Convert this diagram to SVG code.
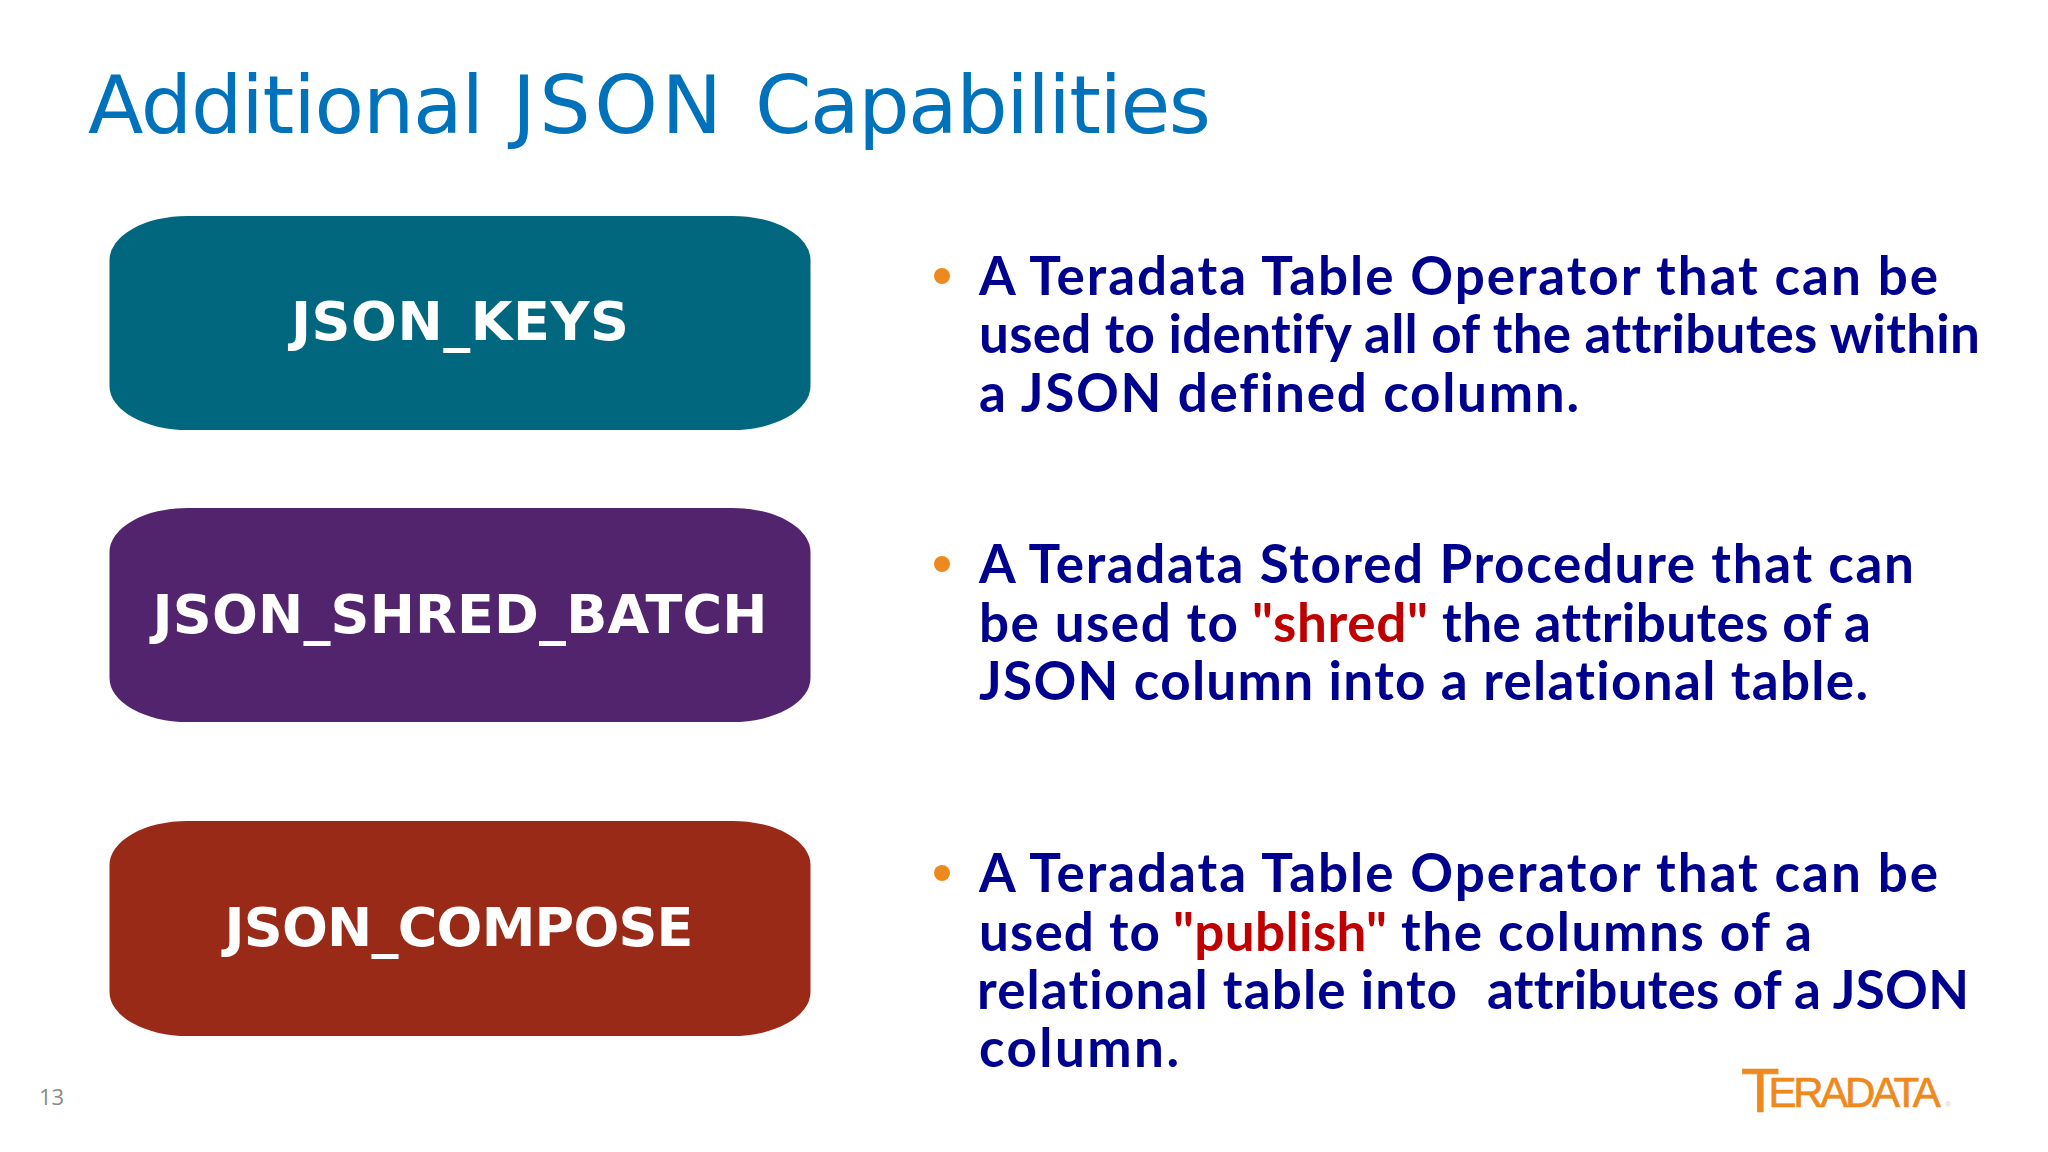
<svg xmlns="http://www.w3.org/2000/svg" width="2048" height="1152" viewBox="0 0 2048 1152">
<style>
.node{font-family:"DejaVu Sans",sans-serif;font-weight:700;font-size:54px;fill:#fff;text-anchor:middle}
.b{font-family:"Lato","Liberation Sans",sans-serif;font-weight:700;font-size:53px;fill:#00008f;font-variant-ligatures:none}
.r{fill:#c00000}
.dot{fill:#ee8a1d}
.t{font-family:"DejaVu Sans",sans-serif;font-size:81px;fill:#0072bc}
.l{font-family:"Liberation Sans",sans-serif;fill:#ee8a1d;stroke:#ee8a1d;stroke-width:.7}
</style>
<rect width="2048" height="1152" fill="#fff"/>
<text class="t" x="88" y="133" textLength="396">Additional</text>
<text class="t" x="512" y="133" textLength="210">JSON</text>
<text class="t" x="755" y="133" textLength="456">Capabilities</text>
<g id="json-keys"><rect x="109.500" y="216" width="701" height="214" rx="78" ry="44" fill="#00677f"/><text class="node" x="460" y="340" textLength="338">JSON_KEYS</text></g>
<g id="json-shred-batch"><rect x="109.500" y="508" width="701" height="214" rx="78" ry="44" fill="#52246d"/><text class="node" x="460" y="633" textLength="615">JSON_SHRED_BATCH</text></g>
<g id="json-compose"><rect x="109.500" y="821" width="701" height="215" rx="78" ry="44" fill="#9a2a18"/><text class="node" x="459" y="946" textLength="469">JSON_COMPOSE</text></g>
<g id="bullets">
<circle class="dot" cx="942" cy="276" r="8"/><circle class="dot" cx="942" cy="564" r="8"/><circle class="dot" cx="942" cy="873" r="8"/>
<text class="b" x="979" y="295" textLength="959">A Teradata Table Operator that can be</text>
<text class="b" x="979" y="353" textLength="1001">used to identify all of the attributes within</text>
<text class="b" x="979" y="412" textLength="600">a JSON defined column.</text>
<text class="b" x="979" y="583" textLength="935">A Teradata Stored Procedure that can</text>
<text class="b" x="979" y="642" textLength="259">be used to</text>
<text class="b r" x="1252" y="642" textLength="176">"shred"</text>
<text class="b" x="1442" y="642" textLength="429">the attributes of a</text>
<text class="b" x="979" y="700" textLength="889">JSON column into a relational table.</text>
<text class="b" x="979" y="892" textLength="959">A Teradata Table Operator that can be</text>
<text class="b" x="979" y="951" textLength="181">used to</text>
<text class="b r" x="1173" y="951" textLength="214">"publish"</text>
<text class="b" x="1401" y="951" textLength="411">the columns of a</text>
<text class="b" x="977" y="1009" textLength="480">relational table into</text>
<text class="b" x="1487" y="1009" textLength="482">attributes of a JSON</text>
<text class="b" x="979" y="1067" textLength="200">column.</text>
</g>
<text x="39" y="1105" font-family="Open Sans, sans-serif" font-size="22" fill="#8a8a8a" textLength="25">13</text>
<g id="logo"><text class="l" x="1741" y="1112" font-size="63">T<tspan font-size="42" dx="-11" dy="-5" letter-spacing="-3.300">ERADATA</tspan></text><text x="1945" y="1107" font-family="Liberation Sans, sans-serif" font-size="8" fill="#d9c9b0">®</text></g>
</svg>
